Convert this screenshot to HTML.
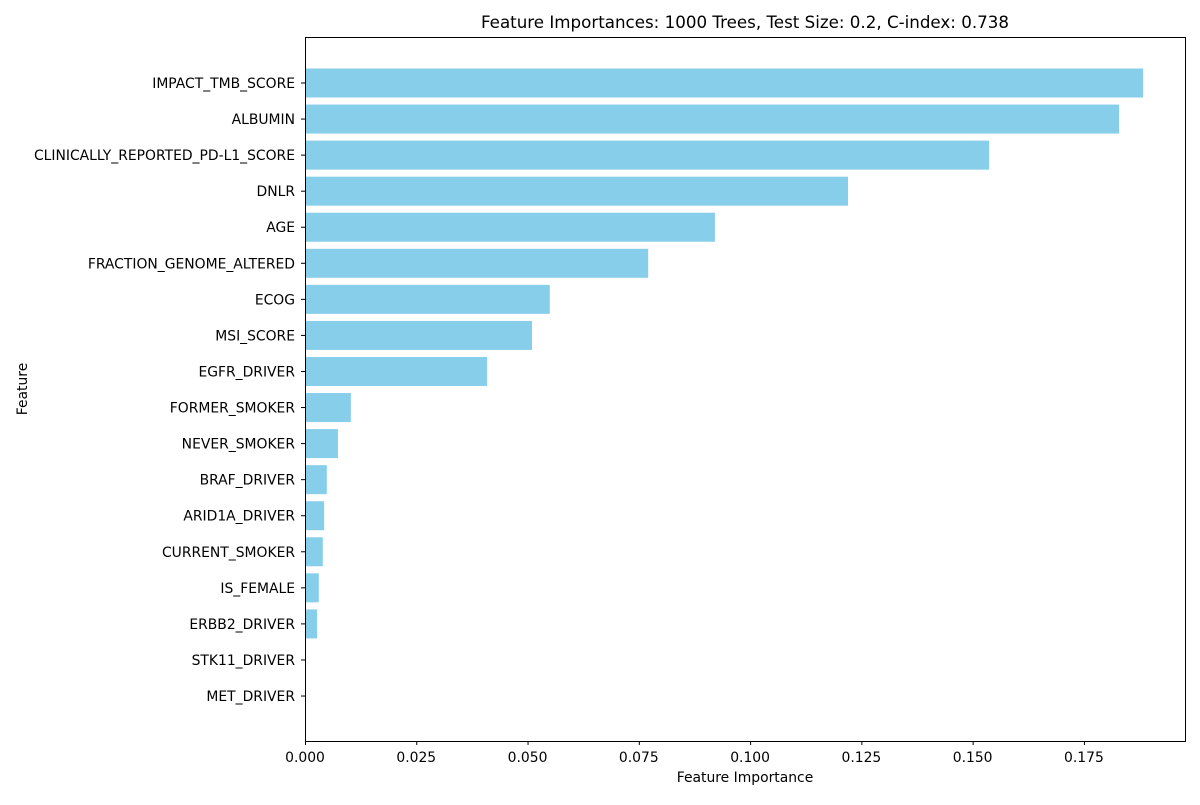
<!DOCTYPE html>
<html><head><meta charset="utf-8"><style>
body{margin:0;background:#fff;font-family:"Liberation Sans","DejaVu Sans",sans-serif;}
svg text{font-family:"DejaVu Sans","Liberation Sans",sans-serif;fill:#000;}
</style></head><body>
<svg id="chart" width="1200" height="800" xmlns="http://www.w3.org/2000/svg">
<rect width="1200" height="800" fill="#fff"/>
<text x="745" y="28" font-size="16.7" text-anchor="middle">Feature Importances: 1000 Trees, Test Size: 0.2, C-index: 0.738</text>
<text x="745" y="782" font-size="13.9" text-anchor="middle">Feature Importance</text>
<text x="27" y="389" font-size="13.9" text-anchor="middle" transform="rotate(-90 27 389)">Feature</text>
<g id="bars"></g><g id="ylabels"></g><g id="xticks"></g>
<rect x="305.5" y="37.5" width="880" height="704" fill="none" stroke="#000" stroke-width="1"/>
</svg>
<script>
const categories=["IMPACT_TMB_SCORE","ALBUMIN","CLINICALLY_REPORTED_PD-L1_SCORE","DNLR","AGE","FRACTION_GENOME_ALTERED","ECOG","MSI_SCORE","EGFR_DRIVER","FORMER_SMOKER","NEVER_SMOKER","BRAF_DRIVER","ARID1A_DRIVER","CURRENT_SMOKER","IS_FEMALE","ERBB2_DRIVER","STK11_DRIVER","MET_DRIVER"];
const values=[0.1883,0.1829,0.1537,0.1220,0.0921,0.0771,0.0550,0.0510,0.0409,0.0103,0.0074,0.0049,0.0043,0.0040,0.0031,0.0027,0,0];
const xTicks=[0,0.025,0.05,0.075,0.1,0.125,0.15,0.175];
const xTickLabels=["0.000","0.025","0.050","0.075","0.100","0.125","0.150","0.175"];
const NS="http://www.w3.org/2000/svg";
const x=v=>305+v*4451;
const y=i=>83+i*36.06;
const bh=29;
const bars=document.getElementById('bars'),yl=document.getElementById('ylabels'),xt=document.getElementById('xticks');
categories.forEach((c,i)=>{
 const r=document.createElementNS(NS,'rect');
 
 
 r.setAttribute('x',x(0));r.setAttribute('y',y(i)-bh/2);
 r.setAttribute('width',Math.max(0,x(values[i])-x(0)));r.setAttribute('height',bh);
 r.setAttribute('fill','#87ceeb');bars.appendChild(r);
 const t=document.createElementNS(NS,'line');
 
 
 t.setAttribute('x1',301);t.setAttribute('x2',305);t.setAttribute('y1',y(i));t.setAttribute('y2',y(i));t.setAttribute('stroke','#000');yl.appendChild(t);
 const l=document.createElementNS(NS,'text');
 
 
 l.setAttribute('x',295);l.setAttribute('y',y(i)+5);l.setAttribute('font-size','13.9');l.setAttribute('text-anchor','end');l.textContent=c;yl.appendChild(l);
});
xTicks.forEach((v,i)=>{
 const t=document.createElementNS(NS,'line');
 
 
 t.setAttribute('x1',x(v)+0.5);t.setAttribute('x2',x(v)+0.5);t.setAttribute('y1',741);t.setAttribute('y2',745);t.setAttribute('stroke','#000');xt.appendChild(t);
 const l=document.createElementNS(NS,'text');
 
 
 l.setAttribute('x',x(v));l.setAttribute('y',762);l.setAttribute('font-size','13.9');l.setAttribute('text-anchor','middle');l.textContent=xTickLabels[i];xt.appendChild(l);
});
</script>
</body></html>
